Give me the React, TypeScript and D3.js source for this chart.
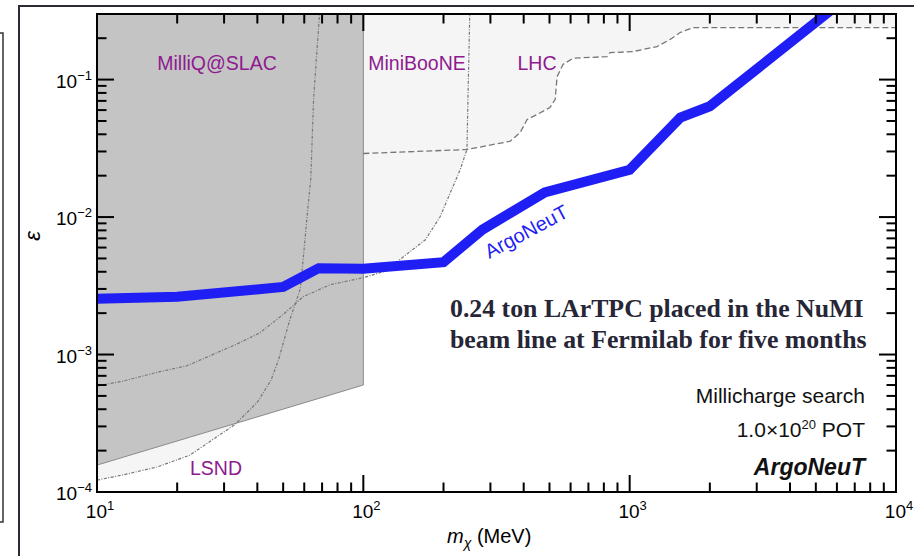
import React from "react";
import * as d3 from "d3";

// axis domain
const X_MIN = 10, X_MAX = 1e4;
const Y_MIN = 1e-4, Y_MAX = 0.3;

const xTickDecades = [10, 100, 1000, 10000];
const xTickExp = ["1", "2", "3", "4"];
const yTickDecades = [1e-4, 1e-3, 1e-2, 1e-1];
const yTickExp = ["\u22124", "\u22123", "\u22122", "\u22121"];

// ArgoNeuT limit
const argoMass = [10, 20, 50, 68, 100, 200, 280, 480, 1000, 1550, 2000, 5700];
const argoEps = [2.55e-3, 2.63e-3, 3.1e-3, 4.25e-3, 4.2e-3, 4.7e-3, 8.1e-3, 0.0151, 0.0221, 0.053, 0.064, 0.32];

// LSND
const lsndMass = [10, 12.5, 16.8, 22.3, 28, 33, 40, 45, 48, 53, 58, 60, 62, 63.5, 65, 67, 68.5];
const lsndEps = [1.22e-4, 1.33e-4, 1.52e-4, 1.85e-4, 2.5e-4, 3.1e-4, 4.5e-4, 6.5e-4, 9.1e-4, 1.8e-3, 3e-3, 6e-3, 0.012, 0.019, 0.07, 0.166, 0.3];

// MiniBooNE
const mbMass = [10, 12.5, 17.2, 21.8, 28.2, 34.4, 40.9, 49.9, 59.4, 75, 100, 126, 137, 171, 194, 231, 245, 247, 251];
const mbEps = [5.9e-4, 6.4e-4, 7.5e-4, 8.3e-4, 1.03e-3, 1.22e-3, 1.44e-3, 1.95e-3, 2.63e-3, 3.22e-3, 3.62e-3, 4.14e-3, 4.9e-3, 6.84e-3, 0.01, 0.0221, 0.031, 0.0716, 0.3];

// LHC
const lhcMass = [100, 245, 356, 388, 412, 449, 502, 525, 534, 562, 613, 822, 844, 1030, 1268, 1419, 1547, 1730, 10000];
const lhcEps = [0.029, 0.031, 0.0356, 0.0412, 0.0512, 0.0557, 0.0627, 0.0716, 0.105, 0.129, 0.143, 0.147, 0.157, 0.16, 0.174, 0.196, 0.22, 0.239, 0.239];

// MilliQ@SLAC
const milliqMass = [10, 10, 100, 100];
const milliqEps = [0.3, 1.57e-4, 6.0e-4, 0.3];

const W = 914, H = 556;
const margin = { left: 97, right: 18, top: 14, bottom: 64 };

const zip = (a: number[], b: number[]) => a.map((v, i) => [v, b[i]] as [number, number]);

export default function App() {
  const x = d3.scaleLog().domain([X_MIN, X_MAX]).range([margin.left, W - margin.right]);
  const y = d3.scaleLog().domain([Y_MIN, Y_MAX]).range([H - margin.bottom, margin.top]);
  const line = d3.line<[number, number]>().x(d => x(d[0])).y(d => y(d[1]));

  const x0 = x(X_MIN), x1 = x(X_MAX), y0 = y(Y_MIN), y1 = y(Y_MAX);

  // exclusion regions closed towards the upper left
  const lsndArea = line([...zip(lsndMass, lsndEps), [X_MIN, Y_MAX]]) + "Z";
  const mbArea = line([...zip(mbMass, mbEps), [X_MIN, Y_MAX]]) + "Z";
  const lhcArea = line([...zip(lhcMass, lhcEps), [X_MAX, Y_MAX], [100, Y_MAX]]) + "Z";
  const milliqArea = line(zip(milliqMass, milliqEps)) + "Z";

  const minorX: number[] = [];
  xTickDecades.slice(0, -1).forEach(d => { for (let k = 2; k <= 9; k++) minorX.push(d * k); });
  const minorY: number[] = [];
  yTickDecades.forEach(d => { for (let k = 2; k <= 9; k++) if (d * k <= Y_MAX) minorY.push(d * k); });

  const MAJ = 17, MIN = 9.5;
  const sans = "'Liberation Sans', Arial, Helvetica, sans-serif";
  const purple = "#8e1a90";

  return (
    <svg width={W} height={H} style={{ position: "absolute", left: 0, top: 0, background: "#fff" }} fontFamily={sans}>
      <defs>
        <clipPath id="plot">
          <rect x={x0} y={y1} width={x1 - x0} height={y0 - y1} />
        </clipPath>
      </defs>

      {/* surrounding frames */}
      <path d="M0,33 H3 V522 H0" fill="none" stroke="#333" strokeWidth={1.5} />
      <path d={`M19,${H + 10} V6 H${W + 10}`} fill="none" stroke="#2b2b38" strokeWidth={2} />

      <g clipPath="url(#plot)">
        <path d={lsndArea} fill="#f5f5f5" />
        <path d={mbArea} fill="#f5f5f5" />
        <path d={lhcArea} fill="#f5f5f5" />
        <path d={milliqArea} fill="#c4c4c4" stroke="#8a8a8a" strokeWidth={1} />

        <path d={line(zip(lsndMass, lsndEps)) ?? ""} fill="none" stroke="#777" strokeWidth={1.2} strokeDasharray="3,1.5,1,1.5" />
        <path d={line(zip(mbMass, mbEps)) ?? ""} fill="none" stroke="#777" strokeWidth={1.2} strokeDasharray="3,1.5,1,1.5" />
        <path d={line(zip(lhcMass, lhcEps)) ?? ""} fill="none" stroke="#777" strokeWidth={1.3} strokeDasharray="6,3" />

        <path d={line(zip(argoMass, argoEps)) ?? ""} fill="none" stroke="#1f1ff5" strokeWidth={10} strokeLinejoin="miter" />
      </g>

      {/* region labels */}
      <g fill={purple} fontSize={19.5}>
        <text x={217} y={70} textAnchor="middle">MilliQ@SLAC</text>
        <text x={417} y={70} textAnchor="middle">MiniBooNE</text>
        <text x={537} y={70} textAnchor="middle">LHC</text>
        <text x={216} y={475} textAnchor="middle">LSND</text>
      </g>
      <text x={527} y={233} fill="#1f1ff5" fontSize={20} textAnchor="middle" dominantBaseline="middle"
        transform="rotate(-28 527 233)">ArgoNeuT</text>

      {/* annotation */}
      <g fontFamily="'Liberation Serif', 'Times New Roman', serif" fontWeight="bold" fontSize={25.8} fill="#262636">
        <text x={450} y={317}>0.24 ton LArTPC placed in the NuMI</text>
        <text x={450} y={348}>beam line at Fermilab for five months</text>
      </g>
      <g fontSize={21} fill="#111" textAnchor="end">
        <text x={865} y={403}>Millicharge search</text>
        <text x={865} y={437}>1.0×10<tspan dy={-8} fontSize={13}>20</tspan><tspan dy={8}> POT</tspan></text>
        <text x={865} y={475} fontWeight="bold" fontStyle="italic" fontSize={23}>ArgoNeuT</text>
      </g>

      {/* frame */}
      <rect x={x0} y={y1} width={x1 - x0} height={y0 - y1} fill="none" stroke="#000" strokeWidth={2} />

      {/* ticks */}
      <g stroke="#000" strokeWidth={2}>
        {xTickDecades.map(d => (
          <g key={"xm" + d}>
            <line x1={x(d)} x2={x(d)} y1={y0} y2={y0 - MAJ} />
            <line x1={x(d)} x2={x(d)} y1={y1} y2={y1 + MAJ} />
          </g>
        ))}
        {minorX.map(d => (
          <g key={"xn" + d}>
            <line x1={x(d)} x2={x(d)} y1={y0} y2={y0 - MIN} />
            <line x1={x(d)} x2={x(d)} y1={y1} y2={y1 + MIN} />
          </g>
        ))}
        {yTickDecades.map(d => (
          <g key={"ym" + d}>
            <line x1={x0} x2={x0 + MAJ} y1={y(d)} y2={y(d)} />
            <line x1={x1} x2={x1 - MAJ} y1={y(d)} y2={y(d)} />
          </g>
        ))}
        {minorY.map(d => (
          <g key={"yn" + d}>
            <line x1={x0} x2={x0 + MIN} y1={y(d)} y2={y(d)} />
            <line x1={x1} x2={x1 - MIN} y1={y(d)} y2={y(d)} />
          </g>
        ))}
      </g>

      {/* tick labels */}
      <g fontSize={19} fill="#000">
        {xTickDecades.map((d, i) => (
          <text key={"xl" + d} x={x(d) + 3} y={518} textAnchor="middle">
            10<tspan dy={-8} fontSize={13}>{xTickExp[i]}</tspan>
          </text>
        ))}
        {yTickDecades.map((d, i) => (
          <text key={"yl" + d} x={92} y={y(d) + 8} textAnchor="end">
            10<tspan dy={-8} fontSize={13}>{yTickExp[i]}</tspan>
          </text>
        ))}
      </g>

      {/* axis titles */}
      <text x={447} y={543} fontSize={20}>
        <tspan fontStyle="italic">m</tspan><tspan dy={5} fontSize={14} fontStyle="italic">χ</tspan><tspan dy={-5}> (MeV)</tspan>
      </text>
      <text transform="translate(40 236) rotate(-90)" fontSize={22} fontStyle="italic" textAnchor="middle">ε</text>
    </svg>
  );
}
